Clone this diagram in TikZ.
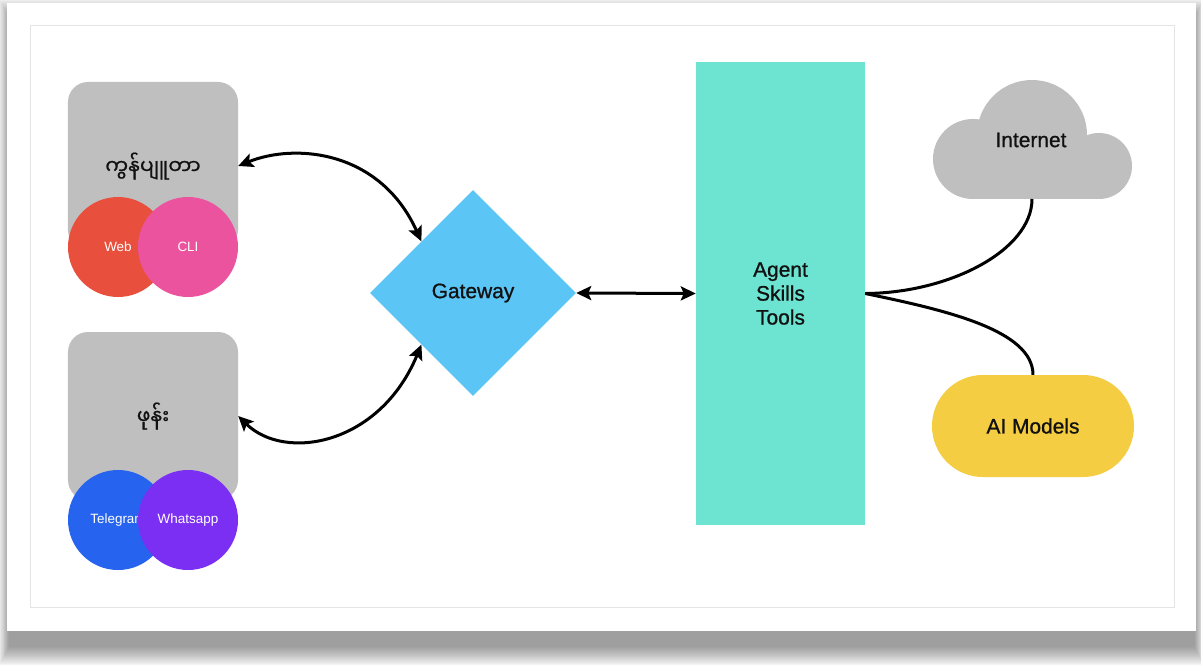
\documentclass[tikz,border=0pt]{standalone}
\usepackage{fontspec}
\setmainfont{Liberation Sans}
\newfontfamily\medfont{Liberation Sans}[FakeBold=0.9]
\newfontfamily\mmfont[Script=Myanmar,FakeBold=0.6]{Noto Sans Myanmar UI}
\usetikzlibrary{shapes.geometric,arrows.meta,calc}
\definecolor{boxgray}{HTML}{BFBFBF}
\definecolor{webc}{HTML}{E94F3D}
\definecolor{clic}{HTML}{EB539F}
\definecolor{telc}{HTML}{2663EE}
\definecolor{whac}{HTML}{7B2FF2}
\definecolor{gwc}{HTML}{5BC5F5}
\definecolor{agc}{HTML}{6DE4D2}
\definecolor{aic}{HTML}{F5CD43}
\definecolor{txtc}{HTML}{111111}
\definecolor{framec}{HTML}{E4E4E4}
\begin{document}
\begin{tikzpicture}[x=1bp,y=-1bp,
  graybox/.style={fill=boxgray, rounded corners=20bp, minimum width=170bp, minimum height=168bp, inner sep=0pt, text=txtc, font=\mmfont\fontsize{20.5}{24}\selectfont},
  circ/.style={circle, minimum size=100bp, inner sep=0pt, text=white, font=\fontsize{13.5}{16}\selectfont},
  lbl/.style={text=txtc, font=\medfont\fontsize{21}{24}\selectfont, align=center},
  link/.style={line width=3bp},
  biarrow/.style={line width=3bp, {Stealth[length=15bp,width=14bp,inset=3bp]}-{Stealth[length=15bp,width=14bp,inset=3bp]}}
]
\useasboundingbox (0,0) rectangle (1201,665);
% shadow
\foreach \i in {0,...,19}{
  \fill[black,opacity=0.022] ({-1+0.5*\i},{-2+\i}) rectangle ({1204-0.5*\i},{666-\i});
}
% card
\fill[white] (7,3) rectangle (1196,631);
\draw[framec, line width=1bp] (30,26) rectangle (1174,607);

% left boxes
\node[graybox] (b1) at (153,166) {ကွန်ပျူတာ};
\node[circ, fill=webc] (web) at (118,247) {Web};
\node[circ, fill=clic] (cli) at (188,247) {CLI};

\node[graybox] (b2) at (153,416) {ဖုန်း};
\node[circ, fill=telc] (tel) at (118,520) {Telegram};
\node[circ, fill=whac] (wha) at (188,520) {Whatsapp};

% gateway
\node[diamond, fill=gwc, minimum width=206bp, minimum height=206bp, inner sep=0pt, lbl] (gw) at (473,293) {Gateway};

% agent
\node[fill=agc, minimum width=169bp, minimum height=463bp, inner sep=0pt, lbl] (ag) at (780.5,293.5) {Agent\\Skills\\Tools};

% cloud
\fill[boxgray] (1032,135) circle (55);
\fill[boxgray] (973,159) circle (40);
\fill[boxgray] (1099,166) circle (33);
\fill[boxgray] (973,159) rectangle (1099,199);
\node[lbl] (net) at (1031,140) {Internet};
\coordinate (netb) at (1032,199);

% AI models
\node[fill=aic, minimum width=202bp, minimum height=102bp, rounded corners=50.9bp, inner sep=0pt, lbl] (ai) at (1033,426) {AI Models};

% connectors
\draw[biarrow] (b1.east) .. controls (295,143) and (380,150) .. (gw.north west);
\draw[biarrow] (b2.east) .. controls (285,462) and (380,445) .. (gw.south west);
\draw[biarrow] (gw.east) -- (ag.west);
\draw[link] (ag.east) .. controls (950,293) and (1032,250) .. (netb);
\draw[link] (ag.east) .. controls (945,310) and (1033,330) .. (ai.north);
\end{tikzpicture}
\end{document}
